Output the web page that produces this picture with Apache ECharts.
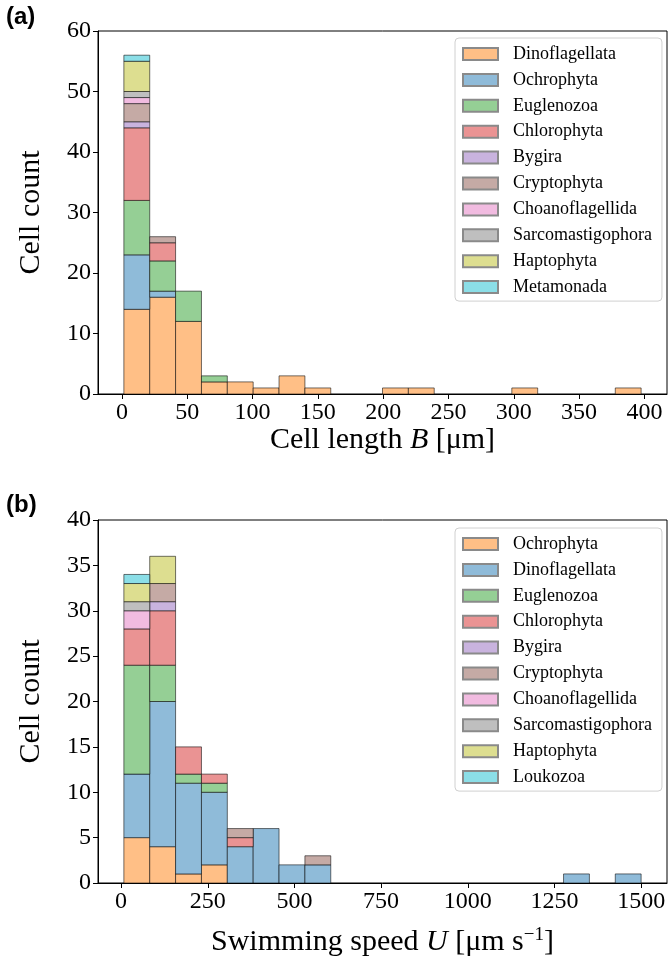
<!DOCTYPE html>
<html>
<head>
<meta charset="utf-8">
<script src="https://cdn.jsdelivr.net/npm/echarts@6/dist/echarts.min.js"></script>
<style>
html,body{margin:0;padding:0;background:#ffffff;}
#chart{width:672px;height:967px;}
</style>
</head>
<body>
<div id="chart"></div>
<script>
// ---------- Panel (a): cell length histogram ----------
const binEdgesA = [1.5, 21.3, 41.1, 60.9, 80.7, 100.5, 120.3, 140.1, 159.9, 179.7, 199.5, 219.3, 239.1, 258.9, 278.7, 298.5, 318.3, 338.1, 357.9, 377.7, 397.5];
const taxaA = ['Dinoflagellata','Ochrophyta','Euglenozoa','Chlorophyta','Bygira','Cryptophyta','Choanoflagellida','Sarcomastigophora','Haptophyta','Metamonada'];
const dinoA      = [14,16,12,2,2,1,3,1,0,0,1,1,0,0,0,1,0,0,0,1];
const ochroA     = [9,1,0,0,0,0,0,0,0,0,0,0,0,0,0,0,0,0,0,0];
const euglA      = [9,5,5,1,0,0,0,0,0,0,0,0,0,0,0,0,0,0,0,0];
const chloroA    = [12,3,0,0,0,0,0,0,0,0,0,0,0,0,0,0,0,0,0,0];
const bygiraA    = [1,0,0,0,0,0,0,0,0,0,0,0,0,0,0,0,0,0,0,0];
const cryptoA    = [3,1,0,0,0,0,0,0,0,0,0,0,0,0,0,0,0,0,0,0];
const choanoA    = [1,0,0,0,0,0,0,0,0,0,0,0,0,0,0,0,0,0,0,0];
const sarcoA     = [1,0,0,0,0,0,0,0,0,0,0,0,0,0,0,0,0,0,0,0];
const haptoA     = [5,0,0,0,0,0,0,0,0,0,0,0,0,0,0,0,0,0,0,0];
const metaA      = [1,0,0,0,0,0,0,0,0,0,0,0,0,0,0,0,0,0,0,0];
const countsA = [dinoA, ochroA, euglA, chloroA, bygiraA, cryptoA, choanoA, sarcoA, haptoA, metaA];
const xTicksA = [0,50,100,150,200,250,300,350,400];

// ---------- Panel (b): swimming speed histogram ----------
const binEdgesB = [8, 82.6, 157.2, 231.8, 306.4, 381, 455.6, 530.2, 604.8, 679.4, 754, 828.6, 903.2, 977.8, 1052.4, 1127, 1201.6, 1276.2, 1350.8, 1425.4, 1500];
const taxaB = ['Ochrophyta','Dinoflagellata','Euglenozoa','Chlorophyta','Bygira','Cryptophyta','Choanoflagellida','Sarcomastigophora','Haptophyta','Loukozoa'];
const ochroB     = [5,4,1,2,0,0,0,0,0,0,0,0,0,0,0,0,0,0,0,0];
const dinoB      = [7,16,10,8,4,6,2,2,0,0,0,0,0,0,0,0,0,1,0,1];
const euglB      = [12,4,1,1,0,0,0,0,0,0,0,0,0,0,0,0,0,0,0,0];
const chloroB    = [4,6,3,1,1,0,0,0,0,0,0,0,0,0,0,0,0,0,0,0];
const bygiraB    = [0,1,0,0,0,0,0,0,0,0,0,0,0,0,0,0,0,0,0,0];
const cryptoB    = [0,2,0,0,1,0,0,1,0,0,0,0,0,0,0,0,0,0,0,0];
const choanoB    = [2,0,0,0,0,0,0,0,0,0,0,0,0,0,0,0,0,0,0,0];
const sarcoB     = [1,0,0,0,0,0,0,0,0,0,0,0,0,0,0,0,0,0,0,0];
const haptoB     = [2,3,0,0,0,0,0,0,0,0,0,0,0,0,0,0,0,0,0,0];
const loukoB     = [1,0,0,0,0,0,0,0,0,0,0,0,0,0,0,0,0,0,0,0];
const countsB = [ochroB, dinoB, euglB, chloroB, bygiraB, cryptoB, choanoB, sarcoB, haptoB, loukoB];
const xTicksB = [0,250,500,750,1000,1250,1500];

// tab10 colours at 50% alpha over white
const palette = ['#ffbf86','#8fbbd9','#95cf95','#ea9393','#c9b3de','#c5aaa5','#f1bbe0','#bfbfbf','#ddde90','#8bdee7'];

const SERIF = '"Liberation Serif", "DejaVu Serif", serif';
const EDGE = 'rgba(0,0,0,0.55)';

function renderItem(params, api) {
  const p0 = api.coord([api.value(0), api.value(2)]);
  const p1 = api.coord([api.value(1), api.value(3)]);
  return {
    type: 'rect',
    shape: {x: p0[0], y: p1[1], width: p1[0] - p0[0], height: p0[1] - p1[1]},
    style: {fill: api.visual('color'), stroke: EDGE, lineWidth: 1}
  };
}

function buildSeries(prefix, taxa, counts, edges, axisIdx) {
  const out = [];
  const base = edges.slice(1).map(() => 0);
  taxa.forEach((name, s) => {
    const data = [];
    counts[s].forEach((c, i) => {
      if (c > 0) data.push([edges[i], edges[i + 1], base[i], base[i] + c]);
      base[i] += c;
    });
    out.push({
      name: prefix + name,
      type: 'custom',
      xAxisIndex: axisIdx, yAxisIndex: axisIdx,
      renderItem: renderItem,
      encode: {x: [0, 1], y: [2, 3]},
      itemStyle: {color: palette[s], borderColor: '#8a8a8a', borderWidth: 1},
      data: data,
      clip: true,
      silent: true
    });
  });
  return out;
}

function makeX(idx, min, max, ticks, nameRich, gap) {
  return {
    gridIndex: idx, type: 'value', min: min, max: max,
    splitLine: {show: false},
    axisLine: {show: true, onZero: false, lineStyle: {color: '#000', width: 1}},
    axisTick: {show: true, inside: false, length: 5, customValues: ticks, lineStyle: {color: '#000'}},
    axisLabel: {customValues: ticks, formatter: v => String(v), color: '#000', fontFamily: SERIF, fontSize: 24, margin: 7},
    name: nameRich, nameLocation: 'middle', nameGap: gap, nameMoveOverlap: false,
    nameTextStyle: {color: '#000', fontFamily: SERIF, fontSize: 30,
      rich: {i: {fontFamily: SERIF, fontStyle: 'italic', fontSize: 30, color: '#000'},
             sup: {fontFamily: SERIF, fontSize: 19, color: '#000', verticalAlign: 'top', padding: [0,0,14,0]}}}
  };
}
function makeY(idx, max, interval) {
  return {
    gridIndex: idx, type: 'value', min: 0, max: max, interval: interval,
    splitLine: {show: false},
    axisLine: {show: true, onZero: false, lineStyle: {color: '#000', width: 1}},
    axisTick: {show: true, inside: false, length: 5, lineStyle: {color: '#000'}},
    axisLabel: {color: '#000', fontFamily: SERIF, fontSize: 24, margin: 7},
    name: 'Cell count', nameLocation: 'middle', nameGap: 52, nameMoveOverlap: false,
    nameTextStyle: {color: '#000', fontFamily: SERIF, fontSize: 30}
  };
}
function makeLegend(prefix, taxa, top) {
  return {
    orient: 'vertical', left: 455, top: top,
    data: taxa.map(n => prefix + n),
    formatter: n => n.slice(prefix.length),
    itemWidth: 35, itemHeight: 12, itemGap: 7.9,
    icon: 'rect',
    padding: [7, 10, 5, 7],
    borderColor: '#d0d0d0', borderWidth: 1, borderRadius: 4,
    backgroundColor: 'rgba(255,255,255,0.85)',
    selectedMode: false,
    textStyle: {color: '#000', fontFamily: SERIF, fontSize: 18, lineHeight: 18, padding: [0, 0, 0, 10]}
  };
}

const chart = echarts.init(document.getElementById('chart'), null, {renderer: 'canvas'});
chart.setOption({
  animation: false,
  backgroundColor: '#ffffff',
  title: [
    {text: '(a)', left: 1, top: 0, textStyle: {fontFamily: '"Liberation Sans", Arial, sans-serif', fontWeight: 'bold', fontSize: 24, color: '#000'}},
    {text: '(b)', left: 1, top: 488, textStyle: {fontFamily: '"Liberation Sans", Arial, sans-serif', fontWeight: 'bold', fontSize: 24, color: '#000'}}
  ],
  grid: [
    {left: 98, top: 31, width: 569, height: 363, show: true, borderColor: '#000', borderWidth: 1, backgroundColor: '#fff'},
    {left: 98, top: 520, width: 569, height: 363, show: true, borderColor: '#000', borderWidth: 1, backgroundColor: '#fff'}
  ],
  xAxis: [
    makeX(0, -18.3, 417.3, xTicksA, 'Cell length {i|B} [μm]', 31),
    makeX(1, -66.6, 1574.6, xTicksB, 'Swimming speed {i|U} [μm s{sup|−1}]', 43)
  ],
  yAxis: [makeY(0, 60, 10), makeY(1, 40, 5)],
  legend: [makeLegend('a:', taxaA, 38), makeLegend('b:', taxaB, 528)],
  series: buildSeries('a:', taxaA, countsA, binEdgesA, 0).concat(buildSeries('b:', taxaB, countsB, binEdgesB, 1))
});
</script>
</body>
</html>
